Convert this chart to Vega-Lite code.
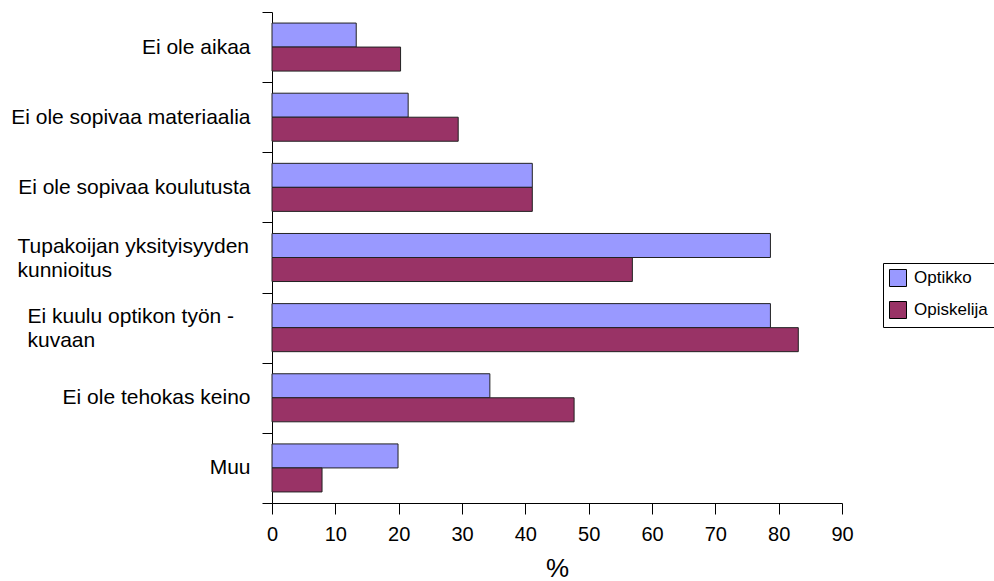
{
  "$schema": "https://vega.github.io/schema/vega-lite/v6.json",
  "autosize": "none",
  "width": 570,
  "height": 491,
  "padding": {"left": 272, "top": 12, "right": 152, "bottom": 78},
  "background": "white",
  "data": {
    "values": [
      {"syy": "Ei ole aikaa", "ryhma": "Optikko", "osuus": 13.3},
      {"syy": "Ei ole aikaa", "ryhma": "Opiskelija", "osuus": 20.3},
      {"syy": "Ei ole sopivaa materiaalia", "ryhma": "Optikko", "osuus": 21.5},
      {"syy": "Ei ole sopivaa materiaalia", "ryhma": "Opiskelija", "osuus": 29.4},
      {"syy": "Ei ole sopivaa koulutusta", "ryhma": "Optikko", "osuus": 41.1},
      {"syy": "Ei ole sopivaa koulutusta", "ryhma": "Opiskelija", "osuus": 41.1},
      {"syy": "Tupakoijan yksityisyyden|kunnioitus", "ryhma": "Optikko", "osuus": 78.7},
      {"syy": "Tupakoijan yksityisyyden|kunnioitus", "ryhma": "Opiskelija", "osuus": 56.9},
      {"syy": "Ei kuulu optikon työn -|kuvaan", "ryhma": "Optikko", "osuus": 78.7},
      {"syy": "Ei kuulu optikon työn -|kuvaan", "ryhma": "Opiskelija", "osuus": 83.1},
      {"syy": "Ei ole tehokas keino", "ryhma": "Optikko", "osuus": 34.4},
      {"syy": "Ei ole tehokas keino", "ryhma": "Opiskelija", "osuus": 47.7},
      {"syy": "Muu", "ryhma": "Optikko", "osuus": 19.9},
      {"syy": "Muu", "ryhma": "Opiskelija", "osuus": 7.9}
    ]
  },
  "mark": {"type": "bar", "stroke": "#222222", "strokeWidth": 1},
  "encoding": {
    "y": {
      "field": "syy",
      "type": "nominal",
      "sort": null,
      "scale": {"paddingInner": 0, "paddingOuter": 0},
      "axis": {
        "title": null,
        "tickBand": "extent",
        "tickSize": 10,
        "tickColor": "black",
        "domainColor": "black",
        "labelFont": "Liberation Sans",
        "labelFontSize": 21,
        "labelColor": "black",
        "labelLineHeight": 24,
        "labelLimit": 400,
        "labelExpr": "datum.value ? split(datum.value, '|') : ''",
        "labelAlign": {
          "condition": {"test": "datum.value && indexof(datum.value, '|') >= 0", "value": "left"},
          "value": "right"
        },
        "labelOffset": {
          "condition": {"test": "datum.value && indexof(datum.value, '|') >= 0", "value": -11.5},
          "value": 0
        },
        "labelPadding": {
          "condition": [
            {"test": "datum.value && indexof(datum.value, 'Tupakoijan') == 0", "value": 245},
            {"test": "datum.value && indexof(datum.value, 'Ei kuulu') == 0", "value": 235}
          ],
          "value": 12
        }
      }
    },
    "yOffset": {
      "field": "ryhma",
      "type": "nominal",
      "sort": ["Optikko", "Opiskelija"],
      "scale": {"paddingInner": 0, "paddingOuter": 0.46}
    },
    "x": {
      "field": "osuus",
      "type": "quantitative",
      "scale": {"domain": [0, 90], "nice": false},
      "axis": {
        "title": "%",
        "values": [0, 10, 20, 30, 40, 50, 60, 70, 80, 90],
        "grid": false,
        "tickSize": 11,
        "tickColor": "black",
        "domainColor": "black",
        "labelFont": "Liberation Sans",
        "labelFontSize": 20,
        "labelColor": "black",
        "labelPadding": 10,
        "labelFlush": false,
        "titleFont": "Liberation Sans",
        "titleFontSize": 26,
        "titleFontWeight": "normal",
        "titleColor": "black",
        "titleBaseline": "middle",
        "titleY": 65
      }
    },
    "color": {
      "field": "ryhma",
      "type": "nominal",
      "sort": ["Optikko", "Opiskelija"],
      "scale": {"domain": ["Optikko", "Opiskelija"], "range": ["#9999FF", "#993366"]},
      "legend": {
        "title": null,
        "orient": "none",
        "legendX": 611,
        "legendY": 251,
        "symbolType": "square",
        "symbolSize": 289,
        "symbolStrokeColor": "black",
        "symbolStrokeWidth": 1,
        "symbolOpacity": 1,
        "labelFont": "Liberation Sans",
        "labelFontSize": 17,
        "labelColor": "black",
        "labelOffset": 7,
        "rowPadding": 10,
        "padding": 6,
        "strokeColor": "black",
        "fillColor": "white"
      }
    }
  },
  "config": {
    "view": {"stroke": null},
    "axis": {"domainWidth": 1, "tickWidth": 1}
  }
}
